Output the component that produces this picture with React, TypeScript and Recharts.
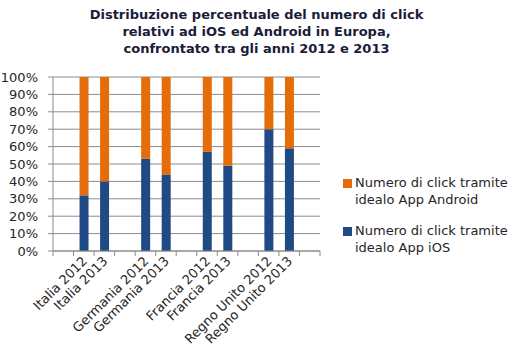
import React from 'react'
import { BarChart, Bar, XAxis, YAxis, CartesianGrid } from 'recharts'

// empty strings are the spacer slots between country pairs
const categories = [
  '',
  'Italia 2012',
  'Italia 2013',
  ' ',
  'Germania 2012',
  'Germania 2013',
  '  ',
  'Francia 2012',
  'Francia 2013',
  '   ',
  'Regno Unito 2012',
  'Regno Unito 2013',
  '    ',
]
const iosShare = [null, 32, 40, null, 53, 44, null, 57, 49, null, 70, 59, null]
const androidShare = [null, 68, 60, null, 47, 56, null, 43, 51, null, 30, 41, null]
const yTicks = [0, 10, 20, 30, 40, 50, 60, 70, 80, 90, 100]

const titleLines = [
  'Distribuzione percentuale del numero di click',
  'relativi ad iOS ed Android in Europa,',
  'confrontato tra gli anni 2012 e 2013',
]

const legendItems = [
  { color: '#E46C0A', lines: ['Numero di click tramite', 'idealo App Android'] },
  { color: '#1F4A84', lines: ['Numero di click tramite', 'idealo App iOS'] },
]

const ORANGE = '#E46C0A'
const BLUE = '#1F4A84'
const GRID = '#8C8C8C'
const FONT = '"DejaVu Sans", Verdana, sans-serif'

const data = categories.map((name, i) => ({
  name,
  ios: iosShare[i],
  android: androidShare[i],
}))

function CategoryTick(props: any) {
  const { x, y, payload, index, visibleTicksCount } = props
  const half = payload?.offset ?? 10
  const isLast = index === visibleTicksCount - 1
  return (
    <g>
      <line x1={x - half} y1={y} x2={x - half} y2={y + 5} stroke={GRID} />
      {isLast && <line x1={x + half} y1={y} x2={x + half} y2={y + 5} stroke={GRID} />}
      {payload.value.trim() !== '' && (
        <text
          x={x + 4}
          y={y + 11}
          textAnchor="end"
          transform={`rotate(-45, ${x + 4}, ${y + 11})`}
          fontSize={13}
          fontFamily={FONT}
          fill="#262626"
        >
          {payload.value}
        </text>
      )}
    </g>
  )
}

function LegendBox() {
  return (
    <div
      style={{
        position: 'absolute',
        left: 343,
        top: 174,
        fontFamily: FONT,
        fontSize: 13,
        color: '#262626',
      }}
    >
      {legendItems.map((it, i) => (
        <div key={i} style={{ display: 'flex', alignItems: 'flex-start', marginBottom: 14 }}>
          <span
            style={{
              display: 'inline-block',
              width: 9,
              height: 9,
              background: it.color,
              marginTop: 5,
              marginRight: 3,
            }}
          />
          <div style={{ lineHeight: '17px' }}>
            {it.lines.map((l) => (
              <div key={l}>{l}</div>
            ))}
          </div>
        </div>
      ))}
    </div>
  )
}

export default function App() {
  return (
    <div
      style={{
        position: 'absolute',
        left: 0,
        top: 0,
        width: 513,
        height: 357,
        background: '#fff',
      }}
    >
      <div
        style={{
          position: 'absolute',
          top: 6,
          left: 0,
          width: 513,
          textAlign: 'center',
          fontFamily: FONT,
          fontWeight: 'bold',
          fontSize: 13,
          lineHeight: '17px',
          color: '#1B1B3A',
        }}
      >
        {titleLines.map((l) => (
          <div key={l}>{l}</div>
        ))}
      </div>
      <BarChart
        width={513}
        height={357}
        data={data}
        margin={{ top: 77, right: 193, left: 3, bottom: 6 }}
        barCategoryGap={0}
      >
        <CartesianGrid vertical={false} stroke={GRID} />
        <XAxis
          dataKey="name"
          interval={0}
          height={100}
          tickSize={0}
          tickMargin={0}
          tickLine={false}
          axisLine={{ stroke: GRID }}
          tick={<CategoryTick />}
        />
        <YAxis
          domain={[0, 100]}
          ticks={yTicks}
          interval={0}
          width={50}
          tickFormatter={(v) => `${v}%`}
          tickSize={5}
          tickMargin={10}
          tickLine={{ stroke: GRID }}
          axisLine={{ stroke: GRID }}
          tick={{ fontSize: 13, fontFamily: FONT, fill: '#262626' }}
        />
        <Bar dataKey="ios" stackId="a" fill={BLUE} barSize={9} isAnimationActive={false} />
        <Bar dataKey="android" stackId="a" fill={ORANGE} barSize={9} isAnimationActive={false} />
      </BarChart>
      <LegendBox />
    </div>
  )
}
